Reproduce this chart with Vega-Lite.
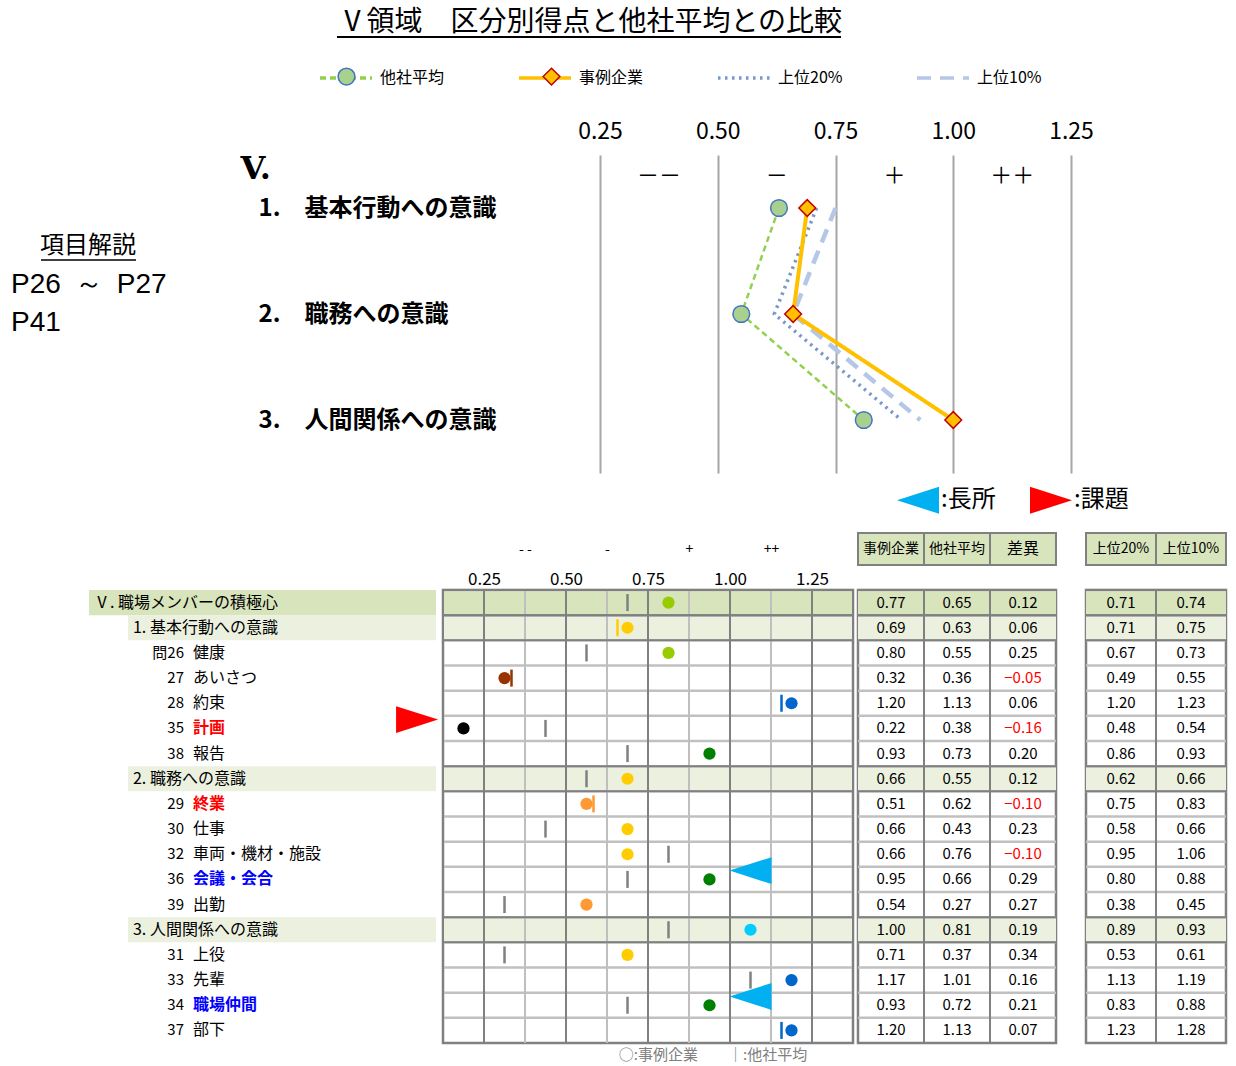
{
  "$schema": "https://vega.github.io/schema/vega-lite/v6.json",
  "usermeta": {"embedOptions": {"actions": false}},
  "background": "#ffffff",
  "padding": {"top": 9, "left": 0, "right": 0, "bottom": 0},
  "config": {"font": "Noto Sans CJK JP", "view": {"stroke": null}},
  "title": {"text": "Ⅴ領域　区分別得点と他社平均との比較", "fontSize": 28, "fontWeight": "normal", "color": "#000000", "anchor": "middle", "dx": -24, "offset": -1},
  "datasets": {
    "note": [{"line": 1, "t": "項目解説", "kind": "head"}, {"line": 2, "t": "P26\u2002～\u2002P27", "kind": "page"}, {"line": 3, "t": "P41", "kind": "page"}],
    "sec": [
      {"sec": 1, "series": "上位10%", "v": 0.75}, {"sec": 2, "series": "上位10%", "v": 0.66}, {"sec": 3, "series": "上位10%", "v": 0.93},
      {"sec": 1, "series": "上位20%", "v": 0.71}, {"sec": 2, "series": "上位20%", "v": 0.62}, {"sec": 3, "series": "上位20%", "v": 0.89},
      {"sec": 1, "series": "他社平均", "v": 0.63}, {"sec": 2, "series": "他社平均", "v": 0.55}, {"sec": 3, "series": "他社平均", "v": 0.81},
      {"sec": 1, "series": "事例企業", "v": 0.69}, {"sec": 2, "series": "事例企業", "v": 0.66}, {"sec": 3, "series": "事例企業", "v": 1.00}
    ],
    "signs": [{"v": 0.375, "s": "－－"}, {"v": 0.625, "s": "－"}, {"v": 0.875, "s": "＋"}, {"v": 1.125, "s": "＋＋"}],
    "grid": [
      {"g": 0.125, "t": "major"}, {"g": 0.25, "t": "major"}, {"g": 0.375, "t": "minor"}, {"g": 0.5, "t": "major"},
      {"g": 0.625, "t": "minor"}, {"g": 0.75, "t": "major"}, {"g": 0.875, "t": "minor"}, {"g": 1.0, "t": "major"},
      {"g": 1.125, "t": "minor"}, {"g": 1.25, "t": "major"}, {"g": 1.375, "t": "major"}
    ],
    "rows": [
      {"k": "V", "lv": 0, "num": "", "name": "Ⅴ. 職場メンバーの積極心", "hl": "", "mk": "", "co": 0.77, "av": 0.65, "df": 0.12, "t20": 0.71, "t10": 0.74},
      {"k": "s1", "lv": 1, "num": "", "name": "1. 基本行動への意識", "hl": "", "mk": "", "co": 0.69, "av": 0.63, "df": 0.06, "t20": 0.71, "t10": 0.75},
      {"k": "26", "lv": 2, "num": "問26", "name": "健康", "hl": "", "mk": "", "co": 0.80, "av": 0.55, "df": 0.25, "t20": 0.67, "t10": 0.73},
      {"k": "27", "lv": 2, "num": "27", "name": "あいさつ", "hl": "", "mk": "", "co": 0.32, "av": 0.36, "df": -0.05, "t20": 0.49, "t10": 0.55},
      {"k": "28", "lv": 2, "num": "28", "name": "約束", "hl": "", "mk": "", "co": 1.20, "av": 1.13, "df": 0.06, "t20": 1.20, "t10": 1.23},
      {"k": "35", "lv": 2, "num": "35", "name": "計画", "hl": "課題", "mk": "課題", "co": 0.22, "av": 0.38, "df": -0.16, "t20": 0.48, "t10": 0.54},
      {"k": "38", "lv": 2, "num": "38", "name": "報告", "hl": "", "mk": "", "co": 0.93, "av": 0.73, "df": 0.20, "t20": 0.86, "t10": 0.93},
      {"k": "s2", "lv": 1, "num": "", "name": "2. 職務への意識", "hl": "", "mk": "", "co": 0.66, "av": 0.55, "df": 0.12, "t20": 0.62, "t10": 0.66},
      {"k": "29", "lv": 2, "num": "29", "name": "終業", "hl": "課題", "mk": "", "co": 0.51, "av": 0.62, "df": -0.10, "t20": 0.75, "t10": 0.83},
      {"k": "30", "lv": 2, "num": "30", "name": "仕事", "hl": "", "mk": "", "co": 0.66, "av": 0.43, "df": 0.23, "t20": 0.58, "t10": 0.66},
      {"k": "32", "lv": 2, "num": "32", "name": "車両・機材・施設", "hl": "", "mk": "", "co": 0.66, "av": 0.76, "df": -0.10, "t20": 0.95, "t10": 1.06},
      {"k": "36", "lv": 2, "num": "36", "name": "会議・会合", "hl": "長所", "mk": "長所", "co": 0.95, "av": 0.66, "df": 0.29, "t20": 0.80, "t10": 0.88},
      {"k": "39", "lv": 2, "num": "39", "name": "出勤", "hl": "", "mk": "", "co": 0.54, "av": 0.27, "df": 0.27, "t20": 0.38, "t10": 0.45},
      {"k": "s3", "lv": 1, "num": "", "name": "3. 人間関係への意識", "hl": "", "mk": "", "co": 1.00, "av": 0.81, "df": 0.19, "t20": 0.89, "t10": 0.93},
      {"k": "31", "lv": 2, "num": "31", "name": "上役", "hl": "", "mk": "", "co": 0.71, "av": 0.37, "df": 0.34, "t20": 0.53, "t10": 0.61},
      {"k": "33", "lv": 2, "num": "33", "name": "先輩", "hl": "", "mk": "", "co": 1.17, "av": 1.01, "df": 0.16, "t20": 1.13, "t10": 1.19},
      {"k": "34", "lv": 2, "num": "34", "name": "職場仲間", "hl": "長所", "mk": "長所", "co": 0.93, "av": 0.72, "df": 0.21, "t20": 0.83, "t10": 0.88},
      {"k": "37", "lv": 2, "num": "37", "name": "部下", "hl": "", "mk": "", "co": 1.20, "av": 1.13, "df": 0.07, "t20": 1.23, "t10": 1.28}
    ]
  },
  "spacing": 25,
  "bounds": "flush",
  "resolve": {"scale": {"color": "independent", "fill": "independent", "stroke": "independent", "shape": "independent", "strokeDash": "independent", "size": "independent", "opacity": "independent"}},
  "vconcat": [
    {
      "width": 1071, "height": 318,
      "resolve": {"scale": {"x": "independent", "y": "independent"}},
      "layer": [
        {"data": {"name": "note"}, "transform": [{"filter": "datum.kind=='head'"}], "mark": {"type": "text", "fontSize": 24, "align": "center", "color": "#000000"},
         "encoding": {"x": {"field": "kind", "type": "nominal", "scale": {"type": "point", "domain": ["page", "head"], "range": [11, 88], "padding": 0}, "axis": null},
                      "y": {"field": "line", "type": "ordinal", "scale": {"type": "point", "domain": [1, 2, 3], "range": [91, 168], "padding": 0}, "axis": null}, "text": {"field": "t"}}},
        {"data": {"name": "note"}, "transform": [{"filter": "datum.kind=='page'"}], "mark": {"type": "text", "fontSize": 28, "align": "left", "font": "Liberation Sans", "color": "#000000"},
         "encoding": {"x": {"field": "kind", "type": "nominal", "scale": {"type": "point", "domain": ["page", "head"], "range": [11, 88], "padding": 0}, "axis": null},
                      "y": {"field": "line", "type": "ordinal", "scale": {"type": "point", "domain": [1, 2, 3], "range": [91, 168], "padding": 0}, "axis": null}, "text": {"field": "t"}}},
        {"data": {"values": [{}]}, "mark": {"type": "rule", "color": "#000000", "strokeWidth": 2},
         "encoding": {"x": {"datum": -0.3084, "type": "quantitative", "scale": {"domain": [0.25, 1.25], "range": [600, 1071], "nice": false, "zero": false}, "axis": null},
                      "x2": {"datum": 0.7617},
                      "y": {"datum": -0.613, "type": "quantitative", "scale": {"domain": [0.5, 3.5], "reverse": true, "nice": false, "zero": false}, "axis": null}}},
        {"data": {"values": [{}]}, "mark": {"type": "rule", "color": "#000000", "strokeWidth": 1.5},
         "encoding": {"x": {"datum": -0.9368, "type": "quantitative", "scale": {"domain": [0.25, 1.25], "range": [600, 1071], "nice": false, "zero": false}, "axis": null},
                      "x2": {"datum": -0.7351},
                      "y": {"datum": 1.4906, "type": "quantitative", "scale": {"domain": [0.5, 3.5], "reverse": true, "nice": false, "zero": false}, "axis": null}}},
        {
          "data": {"name": "signs"},
          "mark": {"type": "text", "fontSize": 22, "color": "#000000"},
          "encoding": {
            "x": {"field": "v", "type": "quantitative", "scale": {"domain": [0.25, 1.25], "range": [600, 1071], "nice": false, "zero": false},
                  "axis": {"orient": "top", "values": [0.25, 0.5, 0.75, 1, 1.25], "format": ".2f", "labelFontSize": 23, "labelPadding": 12, "ticks": false, "tickSize": 0, "domain": false, "grid": true, "gridColor": "#a6a6a6", "gridWidth": 2, "gridOpacity": 1, "labelFlush": false, "labelOverlap": false, "title": null, "labelColor": "#000000"}},
            "y": {"datum": 0.7, "type": "quantitative", "scale": {"domain": [0.5, 3.5], "reverse": true, "nice": false, "zero": false},
                  "axis": {"values": [1, 2, 3], "labelExpr": "datum.value==1 ? '1.　基本行動への意識' : datum.value==2 ? '2.　職務への意識' : '3.　人間関係への意識'", "labelAlign": "left", "labelBaseline": "middle", "labelPadding": -258, "labelLimit": 500, "labelFontSize": 24, "labelFontWeight": "bold", "labelColor": "#000000", "ticks": false, "tickSize": 0, "domain": false, "grid": false, "labelOverlap": false, "labelFlush": false, "title": "V.", "titleAngle": 0, "titleAlign": "left", "titleBaseline": "middle", "titleX": 240, "titleY": 13, "titleFontSize": 32, "titleFontWeight": "bold", "titleFont": "DejaVu Serif", "titleColor": "#000000"}},
            "text": {"field": "s"}
          }
        },
        {
          "data": {"name": "sec"},
          "transform": [{"filter": "datum.series=='上位10%'"}],
          "mark": {"type": "line", "strokeWidth": 4.5},
          "encoding": {
            "x": {"field": "v", "type": "quantitative", "scale": {"domain": [0.25, 1.25], "range": [600, 1071], "nice": false, "zero": false}, "axis": null},
            "y": {"field": "sec", "type": "quantitative", "scale": {"domain": [0.5, 3.5], "reverse": true, "nice": false, "zero": false}, "axis": null},
            "order": {"field": "sec", "type": "quantitative"},
            "color": {"field": "series", "type": "nominal", "scale": {"domain": ["他社平均", "事例企業", "上位20%", "上位10%"], "range": ["#92d050", "#ffc000", "#7a97cc", "#b4c7e7"]},
                      "legend": {"orient": "none", "legendX": 318, "legendY": -105, "direction": "horizontal", "title": null, "symbolSize": 2704, "symbolType": "stroke", "symbolStrokeWidth": 3.5, "labelFontSize": 16, "labelOffset": 6, "columnPadding": 67, "labelColor": "#000000"}},
            "strokeDash": {"field": "series", "type": "nominal", "scale": {"domain": ["他社平均", "事例企業", "上位20%", "上位10%"], "range": [[6, 4], [1, 0], [2.5, 4.5], [14, 9]]},
                      "legend": {"orient": "none", "legendX": 318, "legendY": -105, "direction": "horizontal", "title": null, "symbolSize": 2704, "symbolType": "stroke", "symbolStrokeWidth": 3.5, "labelFontSize": 16, "labelOffset": 6, "columnPadding": 67, "labelColor": "#000000"}}
          }
        },
        {
          "data": {"name": "sec"},
          "transform": [{"filter": "datum.series=='上位20%'"}],
          "mark": {"type": "line", "strokeWidth": 3.5},
          "encoding": {
            "x": {"field": "v", "type": "quantitative", "scale": {"domain": [0.25, 1.25], "range": [600, 1071], "nice": false, "zero": false}, "axis": null},
            "y": {"field": "sec", "type": "quantitative", "scale": {"domain": [0.5, 3.5], "reverse": true, "nice": false, "zero": false}, "axis": null},
            "order": {"field": "sec", "type": "quantitative"},
            "color": {"field": "series", "type": "nominal", "scale": {"domain": ["他社平均", "事例企業", "上位20%", "上位10%"], "range": ["#92d050", "#ffc000", "#7a97cc", "#b4c7e7"]},
                      "legend": {"orient": "none", "legendX": 318, "legendY": -105, "direction": "horizontal", "title": null, "symbolSize": 2704, "symbolType": "stroke", "symbolStrokeWidth": 3.5, "labelFontSize": 16, "labelOffset": 6, "columnPadding": 67, "labelColor": "#000000"}},
            "strokeDash": {"field": "series", "type": "nominal", "scale": {"domain": ["他社平均", "事例企業", "上位20%", "上位10%"], "range": [[6, 4], [1, 0], [2.5, 4.5], [14, 9]]},
                      "legend": {"orient": "none", "legendX": 318, "legendY": -105, "direction": "horizontal", "title": null, "symbolSize": 2704, "symbolType": "stroke", "symbolStrokeWidth": 3.5, "labelFontSize": 16, "labelOffset": 6, "columnPadding": 67, "labelColor": "#000000"}}
          }
        },
        {
          "data": {"name": "sec"},
          "transform": [{"filter": "datum.series=='他社平均'"}],
          "mark": {"type": "line", "strokeWidth": 2.5},
          "encoding": {
            "x": {"field": "v", "type": "quantitative", "scale": {"domain": [0.25, 1.25], "range": [600, 1071], "nice": false, "zero": false}, "axis": null},
            "y": {"field": "sec", "type": "quantitative", "scale": {"domain": [0.5, 3.5], "reverse": true, "nice": false, "zero": false}, "axis": null},
            "order": {"field": "sec", "type": "quantitative"},
            "color": {"field": "series", "type": "nominal", "scale": {"domain": ["他社平均", "事例企業", "上位20%", "上位10%"], "range": ["#92d050", "#ffc000", "#7a97cc", "#b4c7e7"]},
                      "legend": {"orient": "none", "legendX": 318, "legendY": -105, "direction": "horizontal", "title": null, "symbolSize": 2704, "symbolType": "stroke", "symbolStrokeWidth": 3.5, "labelFontSize": 16, "labelOffset": 6, "columnPadding": 67, "labelColor": "#000000"}},
            "strokeDash": {"field": "series", "type": "nominal", "scale": {"domain": ["他社平均", "事例企業", "上位20%", "上位10%"], "range": [[6, 4], [1, 0], [2.5, 4.5], [14, 9]]},
                      "legend": {"orient": "none", "legendX": 318, "legendY": -105, "direction": "horizontal", "title": null, "symbolSize": 2704, "symbolType": "stroke", "symbolStrokeWidth": 3.5, "labelFontSize": 16, "labelOffset": 6, "columnPadding": 67, "labelColor": "#000000"}}
          }
        },
        {
          "data": {"name": "sec"},
          "transform": [{"filter": "datum.series=='事例企業'"}],
          "mark": {"type": "line", "strokeWidth": 4},
          "encoding": {
            "x": {"field": "v", "type": "quantitative", "scale": {"domain": [0.25, 1.25], "range": [600, 1071], "nice": false, "zero": false}, "axis": null},
            "y": {"field": "sec", "type": "quantitative", "scale": {"domain": [0.5, 3.5], "reverse": true, "nice": false, "zero": false}, "axis": null},
            "order": {"field": "sec", "type": "quantitative"},
            "color": {"field": "series", "type": "nominal", "scale": {"domain": ["他社平均", "事例企業", "上位20%", "上位10%"], "range": ["#92d050", "#ffc000", "#7a97cc", "#b4c7e7"]},
                      "legend": {"orient": "none", "legendX": 318, "legendY": -105, "direction": "horizontal", "title": null, "symbolSize": 2704, "symbolType": "stroke", "symbolStrokeWidth": 3.5, "labelFontSize": 16, "labelOffset": 6, "columnPadding": 67, "labelColor": "#000000"}},
            "strokeDash": {"field": "series", "type": "nominal", "scale": {"domain": ["他社平均", "事例企業", "上位20%", "上位10%"], "range": [[6, 4], [1, 0], [2.5, 4.5], [14, 9]]},
                      "legend": {"orient": "none", "legendX": 318, "legendY": -105, "direction": "horizontal", "title": null, "symbolSize": 2704, "symbolType": "stroke", "symbolStrokeWidth": 3.5, "labelFontSize": 16, "labelOffset": 6, "columnPadding": 67, "labelColor": "#000000"}}
          }
        },
        {
          "data": {"name": "sec"},
          "transform": [{"filter": "datum.series=='他社平均' || datum.series=='事例企業'"}],
          "mark": {"type": "point", "filled": true, "size": 280, "strokeWidth": 1.5, "opacity": 1},
          "encoding": {
            "x": {"field": "v", "type": "quantitative", "scale": {"domain": [0.25, 1.25], "range": [600, 1071], "nice": false, "zero": false}, "axis": null},
            "y": {"field": "sec", "type": "quantitative", "scale": {"domain": [0.5, 3.5], "reverse": true, "nice": false, "zero": false}, "axis": null},
            "shape": {"field": "series", "type": "nominal", "scale": {"domain": ["他社平均", "事例企業", "上位20%", "上位10%", "_"], "range": ["circle", "diamond", "circle", "circle", "circle"]},
                      "legend": {"orient": "none", "legendX": 337, "legendY": -88, "direction": "horizontal", "title": null, "symbolSize": 280, "symbolStrokeWidth": 1.5, "symbolOpacity": 1, "labelFontSize": 16, "labelOffset": 0, "columnPadding": 182, "labelExpr": "''"}},
            "fill": {"field": "series", "type": "nominal", "scale": {"domain": ["他社平均", "事例企業", "上位20%", "上位10%", "_"], "range": ["#a9d18e", "#ffc000", "transparent", "transparent", "transparent"]},
                      "legend": {"orient": "none", "legendX": 337, "legendY": -88, "direction": "horizontal", "title": null, "symbolSize": 280, "symbolStrokeWidth": 1.5, "symbolOpacity": 1, "labelFontSize": 16, "labelOffset": 0, "columnPadding": 182, "labelExpr": "''"}},
            "stroke": {"field": "series", "type": "nominal", "scale": {"domain": ["他社平均", "事例企業", "上位20%", "上位10%", "_"], "range": ["#4472c4", "#c00000", "transparent", "transparent", "transparent"]},
                      "legend": {"orient": "none", "legendX": 337, "legendY": -88, "direction": "horizontal", "title": null, "symbolSize": 280, "symbolStrokeWidth": 1.5, "symbolOpacity": 1, "labelFontSize": 16, "labelOffset": 0, "columnPadding": 182, "labelExpr": "''"}}
          }
        }
      ]
    },
    {
      "width": 1226, "height": 67,
      "resolve": {"scale": {"x": "independent"}},
      "layer": [
        {"data": {"values": [{"c": "co", "h": "事例企業", "r": "hdr"}, {"c": "av", "h": "他社平均", "r": "hdr"}, {"c": "df", "h": "差異", "r": "hdr"}]},
         "mark": {"type": "rect", "fill": "#d8e4bc", "stroke": "#808080", "strokeWidth": 2},
         "encoding": {"x": {"field": "c", "type": "nominal", "sort": null, "scale": {"domain": ["co", "av", "df"], "range": [858, 1056], "paddingInner": 0, "paddingOuter": 0}, "axis": null},
                      "y": {"field": "r", "type": "nominal", "scale": {"domain": ["hdr"], "range": [35, 67], "paddingInner": 0, "paddingOuter": 0}, "axis": null}}},
        {"data": {"values": [{"c": "co", "h": "事例企業", "r": "hdr"}, {"c": "av", "h": "他社平均", "r": "hdr"}, {"c": "df", "h": "差異", "r": "hdr"}]},
         "mark": {"type": "text", "color": "#000000"},
         "encoding": {"x": {"field": "c", "type": "nominal", "sort": null, "scale": {"domain": ["co", "av", "df"], "range": [858, 1056], "paddingInner": 0, "paddingOuter": 0}, "axis": null},
                      "y": {"field": "r", "type": "nominal", "scale": {"domain": ["hdr"], "range": [35, 67], "paddingInner": 0, "paddingOuter": 0}, "axis": null},
                      "text": {"field": "h"}, "size": {"condition": {"test": "datum.c=='df'", "value": 16}, "value": 14}}},
        {"data": {"values": [{"c": "t20", "h": "上位20%", "r": "hdr"}, {"c": "t10", "h": "上位10%", "r": "hdr"}]},
         "mark": {"type": "rect", "fill": "#d8e4bc", "stroke": "#808080", "strokeWidth": 2},
         "encoding": {"x": {"field": "c", "type": "nominal", "sort": null, "scale": {"domain": ["t20", "t10"], "range": [1086, 1226], "paddingInner": 0, "paddingOuter": 0}, "axis": null},
                      "y": {"field": "r", "type": "nominal", "scale": {"domain": ["hdr"], "range": [35, 67], "paddingInner": 0, "paddingOuter": 0}, "axis": null}}},
        {"data": {"values": [{"c": "t20", "h": "上位20%", "r": "hdr"}, {"c": "t10", "h": "上位10%", "r": "hdr"}]},
         "mark": {"type": "text", "color": "#000000", "fontSize": 14},
         "encoding": {"x": {"field": "c", "type": "nominal", "sort": null, "scale": {"domain": ["t20", "t10"], "range": [1086, 1226], "paddingInner": 0, "paddingOuter": 0}, "axis": null},
                      "y": {"field": "r", "type": "nominal", "scale": {"domain": ["hdr"], "range": [35, 67], "paddingInner": 0, "paddingOuter": 0}, "axis": null},
                      "text": {"field": "h"}}}
      ]
    },
    {
      "hconcat": [
        {
          "width": 443, "height": 453,
          "data": {"name": "rows"},
          "layer": [
            {"transform": [{"filter": "datum.lv==0"}], "mark": {"type": "rect", "color": "#d8e4bc"},
             "encoding": {"x": {"datum": 0.2009, "type": "quantitative", "scale": {"domain": [0, 1], "nice": false, "zero": false}, "axis": null}, "x2": {"datum": 0.9842},
                          "y": {"field": "k", "type": "nominal", "sort": null, "scale": {"domain": ["V", "s1", "26", "27", "28", "35", "38", "s2", "29", "30", "32", "36", "39", "s3", "31", "33", "34", "37"], "paddingInner": 0, "paddingOuter": 0}, "axis": null}}},
            {"transform": [{"filter": "datum.lv==1"}], "mark": {"type": "rect", "color": "#ebf1de"},
             "encoding": {"x": {"datum": 0.2889, "type": "quantitative", "axis": null}, "x2": {"datum": 0.9842},
                          "y": {"field": "k", "type": "nominal", "sort": null, "axis": null}}},
            {"transform": [{"filter": "datum.lv==0"}], "mark": {"type": "text", "align": "left", "fontSize": 16, "color": "#000000"},
             "encoding": {"x": {"datum": 0.2122, "type": "quantitative", "axis": null}, "y": {"field": "k", "type": "nominal", "sort": null, "axis": null}, "text": {"field": "name"}}},
            {"transform": [{"filter": "datum.lv==1"}], "mark": {"type": "text", "align": "left", "fontSize": 16, "color": "#000000"},
             "encoding": {"x": {"datum": 0.3002, "type": "quantitative", "axis": null}, "y": {"field": "k", "type": "nominal", "sort": null, "axis": null}, "text": {"field": "name"}}},
            {"transform": [{"filter": "datum.lv==2"}], "mark": {"type": "text", "align": "right", "fontSize": 15, "color": "#000000"},
             "encoding": {"x": {"datum": 0.4153, "type": "quantitative", "axis": null}, "y": {"field": "k", "type": "nominal", "sort": null, "axis": null}, "text": {"field": "num"}}},
            {"transform": [{"filter": "datum.lv==2 && datum.hl==''"}], "mark": {"type": "text", "align": "left", "fontSize": 16, "color": "#000000"},
             "encoding": {"x": {"datum": 0.4357, "type": "quantitative", "axis": null}, "y": {"field": "k", "type": "nominal", "sort": null, "axis": null}, "text": {"field": "name"}}},
            {"transform": [{"filter": "datum.lv==2 && datum.hl!=''"}], "mark": {"type": "text", "align": "left", "fontSize": 16, "fontWeight": "bold"},
             "encoding": {"x": {"datum": 0.4357, "type": "quantitative", "axis": null}, "y": {"field": "k", "type": "nominal", "sort": null, "axis": null}, "text": {"field": "name"},
                          "color": {"condition": {"test": "datum.hl=='課題'", "value": "#ff0000"}, "value": "#0000ff"}}}
          ]
        },
        {
          "hconcat": [
            {
              "width": 410, "height": 453,
              "view": {"stroke": "#808080", "strokeWidth": 2.5},
              "title": {"text": "○:事例企業　　｜:他社平均", "orient": "bottom", "fontSize": 15, "fontWeight": "normal", "color": "#808080", "offset": 4, "anchor": "middle", "dx": 65},
              "data": {"name": "rows"},
              "layer": [
                {"transform": [{"filter": "datum.lv<=1"}], "mark": {"type": "rect"},
                 "encoding": {"y": {"field": "k", "type": "nominal", "sort": null, "scale": {"domain": ["V", "s1", "26", "27", "28", "35", "38", "s2", "29", "30", "32", "36", "39", "s3", "31", "33", "34", "37"], "paddingInner": 0, "paddingOuter": 0}, "axis": null},
                              "fill": {"condition": {"test": "datum.lv==0", "value": "#d8e4bc"}, "value": "#ebf1de"}}},
                {"mark": {"type": "rule", "color": "#c0c0c0", "strokeWidth": 2.5},
                 "encoding": {"y": {"field": "k", "type": "nominal", "sort": null, "bandPosition": 0, "axis": null}}},
                {"data": {"name": "grid"}, "transform": [{"filter": "datum.t=='minor'"}], "mark": {"type": "rule", "color": "#bfbfbf", "strokeWidth": 2},
                 "encoding": {"x": {"field": "g", "type": "quantitative", "scale": {"domain": [0.125, 1.375], "nice": false, "zero": false},
                                    "axis": {"orient": "top", "values": [0.25, 0.375, 0.5, 0.625, 0.75, 0.875, 1, 1.125, 1.25], "labelExpr": "(datum.value*8)%2==1 ? ['- -','-','+','++'][(datum.value*8-3)/2] : format(datum.value,'.2f')", "ticks": false, "tickSize": 0, "domain": false, "grid": false, "labelPadding": 2, "labelFontSize": {"condition": {"test": "(datum.value*8)%2==1", "value": 14}, "value": 17}, "labelBaseline": {"condition": {"test": "(datum.value*8)%2==1", "value": "line-bottom"}, "value": "bottom"}, "labelLineHeight": 78, "labelOverlap": false, "labelFlush": false, "title": null, "labelColor": "#000000"}}}},
                {"data": {"name": "grid"}, "transform": [{"filter": "datum.t=='major'"}], "mark": {"type": "rule", "color": "#808080", "strokeWidth": 2},
                 "encoding": {"x": {"field": "g", "type": "quantitative", "scale": {"domain": [0.125, 1.375], "nice": false, "zero": false},
                                    "axis": {"orient": "top", "values": [0.25, 0.375, 0.5, 0.625, 0.75, 0.875, 1, 1.125, 1.25], "labelExpr": "(datum.value*8)%2==1 ? ['- -','-','+','++'][(datum.value*8-3)/2] : format(datum.value,'.2f')", "ticks": false, "tickSize": 0, "domain": false, "grid": false, "labelPadding": 2, "labelFontSize": {"condition": {"test": "(datum.value*8)%2==1", "value": 14}, "value": 17}, "labelBaseline": {"condition": {"test": "(datum.value*8)%2==1", "value": "line-bottom"}, "value": "bottom"}, "labelLineHeight": 78, "labelOverlap": false, "labelFlush": false, "title": null, "labelColor": "#000000"}}}},
                {"transform": [{"filter": "datum.lv<=1"}], "mark": {"type": "rule", "color": "#808080", "strokeWidth": 2},
                 "encoding": {"y": {"field": "k", "type": "nominal", "sort": null, "bandPosition": 0, "axis": null}}},
                {"transform": [{"filter": "datum.lv<=1"}], "mark": {"type": "rule", "color": "#808080", "strokeWidth": 2},
                 "encoding": {"y": {"field": "k", "type": "nominal", "sort": null, "bandPosition": 1, "axis": null}}},
                {"transform": [{"filter": "floor(datum.co*8)!=floor(datum.av*8)"}], "mark": {"type": "tick", "color": "#808080", "thickness": 2.5, "size": 17, "opacity": 1},
                 "encoding": {"x": {"field": "av", "type": "quantitative", "bin": {"extent": [0.125, 1.375], "step": 0.125},
                                    "axis": {"orient": "top", "values": [0.25, 0.375, 0.5, 0.625, 0.75, 0.875, 1, 1.125, 1.25], "labelExpr": "(datum.value*8)%2==1 ? ['- -','-','+','++'][(datum.value*8-3)/2] : format(datum.value,'.2f')", "ticks": false, "tickSize": 0, "domain": false, "grid": false, "labelPadding": 2, "labelFontSize": {"condition": {"test": "(datum.value*8)%2==1", "value": 14}, "value": 17}, "labelBaseline": {"condition": {"test": "(datum.value*8)%2==1", "value": "line-bottom"}, "value": "bottom"}, "labelLineHeight": 78, "labelOverlap": false, "labelFlush": false, "title": null, "labelColor": "#000000"}},
                              "y": {"field": "k", "type": "nominal", "sort": null, "axis": null}}},
                {"transform": [{"filter": "floor(datum.co*8)==floor(datum.av*8) && datum.co>datum.av"}], "mark": {"type": "tick", "thickness": 2.5, "size": 17, "opacity": 1, "xOffset": -10},
                 "encoding": {"x": {"field": "av", "type": "quantitative", "bin": {"extent": [0.125, 1.375], "step": 0.125},
                                    "axis": {"orient": "top", "values": [0.25, 0.375, 0.5, 0.625, 0.75, 0.875, 1, 1.125, 1.25], "labelExpr": "(datum.value*8)%2==1 ? ['- -','-','+','++'][(datum.value*8-3)/2] : format(datum.value,'.2f')", "ticks": false, "tickSize": 0, "domain": false, "grid": false, "labelPadding": 2, "labelFontSize": {"condition": {"test": "(datum.value*8)%2==1", "value": 14}, "value": 17}, "labelBaseline": {"condition": {"test": "(datum.value*8)%2==1", "value": "line-bottom"}, "value": "bottom"}, "labelLineHeight": 78, "labelOverlap": false, "labelFlush": false, "title": null, "labelColor": "#000000"}},
                              "y": {"field": "k", "type": "nominal", "sort": null, "axis": null},
                              "color": {"field": "av", "type": "quantitative", "scale": {"type": "threshold", "domain": [0.25, 0.375, 0.5, 0.625, 0.75, 0.875, 1, 1.125, 1.25], "range": ["#000000", "#993300", "#ff6600", "#ff9933", "#ffcc00", "#99cc00", "#008000", "#00ccff", "#0066cc", "#0000ff"]}, "legend": null}}},
                {"transform": [{"filter": "floor(datum.co*8)==floor(datum.av*8) && datum.co<datum.av"}], "mark": {"type": "tick", "thickness": 2.5, "size": 17, "opacity": 1, "xOffset": 7},
                 "encoding": {"x": {"field": "av", "type": "quantitative", "bin": {"extent": [0.125, 1.375], "step": 0.125},
                                    "axis": {"orient": "top", "values": [0.25, 0.375, 0.5, 0.625, 0.75, 0.875, 1, 1.125, 1.25], "labelExpr": "(datum.value*8)%2==1 ? ['- -','-','+','++'][(datum.value*8-3)/2] : format(datum.value,'.2f')", "ticks": false, "tickSize": 0, "domain": false, "grid": false, "labelPadding": 2, "labelFontSize": {"condition": {"test": "(datum.value*8)%2==1", "value": 14}, "value": 17}, "labelBaseline": {"condition": {"test": "(datum.value*8)%2==1", "value": "line-bottom"}, "value": "bottom"}, "labelLineHeight": 78, "labelOverlap": false, "labelFlush": false, "title": null, "labelColor": "#000000"}},
                              "y": {"field": "k", "type": "nominal", "sort": null, "axis": null},
                              "color": {"field": "av", "type": "quantitative", "scale": {"type": "threshold", "domain": [0.25, 0.375, 0.5, 0.625, 0.75, 0.875, 1, 1.125, 1.25], "range": ["#000000", "#993300", "#ff6600", "#ff9933", "#ffcc00", "#99cc00", "#008000", "#00ccff", "#0066cc", "#0000ff"]}, "legend": null}}},
                {"mark": {"type": "point", "filled": true, "size": 150, "opacity": 1},
                 "encoding": {"x": {"field": "co", "type": "quantitative", "bin": {"extent": [0.125, 1.375], "step": 0.125},
                                    "axis": {"orient": "top", "values": [0.25, 0.375, 0.5, 0.625, 0.75, 0.875, 1, 1.125, 1.25], "labelExpr": "(datum.value*8)%2==1 ? ['- -','-','+','++'][(datum.value*8-3)/2] : format(datum.value,'.2f')", "ticks": false, "tickSize": 0, "domain": false, "grid": false, "labelPadding": 2, "labelFontSize": {"condition": {"test": "(datum.value*8)%2==1", "value": 14}, "value": 17}, "labelBaseline": {"condition": {"test": "(datum.value*8)%2==1", "value": "line-bottom"}, "value": "bottom"}, "labelLineHeight": 78, "labelOverlap": false, "labelFlush": false, "title": null, "labelColor": "#000000"}},
                              "y": {"field": "k", "type": "nominal", "sort": null, "axis": null},
                              "color": {"field": "co", "type": "quantitative", "scale": {"type": "threshold", "domain": [0.25, 0.375, 0.5, 0.625, 0.75, 0.875, 1, 1.125, 1.25], "range": ["#000000", "#993300", "#ff6600", "#ff9933", "#ffcc00", "#99cc00", "#008000", "#00ccff", "#0066cc", "#0000ff"]}, "legend": null}}},
                {"transform": [{"filter": "datum.mk=='長所'"}], "mark": {"type": "point", "filled": true, "size": 1764, "opacity": 1, "strokeWidth": 0},
                 "encoding": {"x": {"datum": 1.0625, "type": "quantitative",
                                    "axis": {"orient": "top", "values": [0.25, 0.375, 0.5, 0.625, 0.75, 0.875, 1, 1.125, 1.25], "labelExpr": "(datum.value*8)%2==1 ? ['- -','-','+','++'][(datum.value*8-3)/2] : format(datum.value,'.2f')", "ticks": false, "tickSize": 0, "domain": false, "grid": false, "labelPadding": 2, "labelFontSize": {"condition": {"test": "(datum.value*8)%2==1", "value": 14}, "value": 17}, "labelBaseline": {"condition": {"test": "(datum.value*8)%2==1", "value": "line-bottom"}, "value": "bottom"}, "labelLineHeight": 78, "labelOverlap": false, "labelFlush": false, "title": null, "labelColor": "#000000"}},
                              "y": {"field": "k", "type": "nominal", "sort": null, "bandPosition": 0.15, "axis": null},
                              "shape": {"field": "mk", "type": "nominal", "scale": {"domain": ["長所", "課題"], "range": ["M1,-0.64L-1,0L1,0.64Z", "M-1,-0.64L1,0L-1,0.64Z"]},
                                        "legend": {"orient": "none", "legendX": 454, "legendY": -111, "direction": "horizontal", "title": null, "symbolSize": 1764, "symbolOpacity": 1, "symbolStrokeWidth": 0, "labelFontSize": 24, "labelOffset": 2, "columnPadding": 34, "labelExpr": "':' + datum.label", "labelColor": "#000000"}},
                              "fill": {"field": "mk", "type": "nominal", "scale": {"domain": ["長所", "課題"], "range": ["#00b0f0", "#ff0000"]},
                                        "legend": {"orient": "none", "legendX": 454, "legendY": -111, "direction": "horizontal", "title": null, "symbolSize": 1764, "symbolOpacity": 1, "symbolStrokeWidth": 0, "labelFontSize": 24, "labelOffset": 2, "columnPadding": 34, "labelExpr": "':' + datum.label", "labelColor": "#000000"}}}},
                {"transform": [{"filter": "datum.mk=='課題'"}], "mark": {"type": "point", "filled": true, "size": 1764, "opacity": 1, "strokeWidth": 0},
                 "encoding": {"x": {"datum": 0.046, "type": "quantitative",
                                    "axis": {"orient": "top", "values": [0.25, 0.375, 0.5, 0.625, 0.75, 0.875, 1, 1.125, 1.25], "labelExpr": "(datum.value*8)%2==1 ? ['- -','-','+','++'][(datum.value*8-3)/2] : format(datum.value,'.2f')", "ticks": false, "tickSize": 0, "domain": false, "grid": false, "labelPadding": 2, "labelFontSize": {"condition": {"test": "(datum.value*8)%2==1", "value": 14}, "value": 17}, "labelBaseline": {"condition": {"test": "(datum.value*8)%2==1", "value": "line-bottom"}, "value": "bottom"}, "labelLineHeight": 78, "labelOverlap": false, "labelFlush": false, "title": null, "labelColor": "#000000"}},
                              "y": {"field": "k", "type": "nominal", "sort": null, "bandPosition": 0.15, "axis": null},
                              "shape": {"field": "mk", "type": "nominal", "scale": {"domain": ["長所", "課題"], "range": ["M1,-0.64L-1,0L1,0.64Z", "M-1,-0.64L1,0L-1,0.64Z"]},
                                        "legend": {"orient": "none", "legendX": 454, "legendY": -111, "direction": "horizontal", "title": null, "symbolSize": 1764, "symbolOpacity": 1, "symbolStrokeWidth": 0, "labelFontSize": 24, "labelOffset": 2, "columnPadding": 34, "labelExpr": "':' + datum.label", "labelColor": "#000000"}},
                              "fill": {"field": "mk", "type": "nominal", "scale": {"domain": ["長所", "課題"], "range": ["#00b0f0", "#ff0000"]},
                                        "legend": {"orient": "none", "legendX": 454, "legendY": -111, "direction": "horizontal", "title": null, "symbolSize": 1764, "symbolOpacity": 1, "symbolStrokeWidth": 0, "labelFontSize": 24, "labelOffset": 2, "columnPadding": 34, "labelExpr": "':' + datum.label", "labelColor": "#000000"}}}}
              ]
            },
            {
              "hconcat": [
                {
                  "width": 198, "height": 453,
                  "view": {"stroke": "#808080", "strokeWidth": 2.5},
                  "data": {"name": "rows"},
                  "layer": [
                    {"transform": [{"filter": "datum.lv<=1"}], "mark": {"type": "rect"},
                     "encoding": {"y": {"field": "k", "type": "nominal", "sort": null, "scale": {"domain": ["V", "s1", "26", "27", "28", "35", "38", "s2", "29", "30", "32", "36", "39", "s3", "31", "33", "34", "37"], "paddingInner": 0, "paddingOuter": 0}, "axis": null},
                                  "fill": {"condition": {"test": "datum.lv==0", "value": "#d8e4bc"}, "value": "#ebf1de"}}},
                    {"mark": {"type": "rule", "color": "#c0c0c0", "strokeWidth": 2.5},
                     "encoding": {"y": {"field": "k", "type": "nominal", "sort": null, "bandPosition": 0, "axis": null}}},
                    {"transform": [{"filter": "datum.lv<=1"}], "mark": {"type": "rule", "color": "#808080", "strokeWidth": 2},
                     "encoding": {"y": {"field": "k", "type": "nominal", "sort": null, "bandPosition": 0, "axis": null}}},
                    {"transform": [{"filter": "datum.lv<=1"}], "mark": {"type": "rule", "color": "#808080", "strokeWidth": 2},
                     "encoding": {"y": {"field": "k", "type": "nominal", "sort": null, "bandPosition": 1, "axis": null}}},
                    {"data": {"values": [{"c": "av"}, {"c": "df"}]}, "mark": {"type": "rule", "color": "#808080", "strokeWidth": 2},
                     "encoding": {"x": {"field": "c", "type": "nominal", "sort": null, "bandPosition": 0, "scale": {"domain": ["co", "av", "df"], "paddingInner": 0, "paddingOuter": 0}, "axis": null}}},
                    {"transform": [{"fold": ["co", "av", "df"]}], "mark": {"type": "text", "fontSize": 15},
                     "encoding": {"x": {"field": "key", "type": "nominal", "sort": null, "axis": null},
                                  "y": {"field": "k", "type": "nominal", "sort": null, "axis": null},
                                  "text": {"field": "value", "type": "quantitative", "format": ".2f"},
                                  "color": {"condition": {"test": "datum.value<0", "value": "#ff0000"}, "value": "#000000"}}}
                  ]
                },
                {
                  "width": 140, "height": 453,
                  "view": {"stroke": "#808080", "strokeWidth": 2.5},
                  "data": {"name": "rows"},
                  "layer": [
                    {"transform": [{"filter": "datum.lv<=1"}], "mark": {"type": "rect"},
                     "encoding": {"y": {"field": "k", "type": "nominal", "sort": null, "scale": {"domain": ["V", "s1", "26", "27", "28", "35", "38", "s2", "29", "30", "32", "36", "39", "s3", "31", "33", "34", "37"], "paddingInner": 0, "paddingOuter": 0}, "axis": null},
                                  "fill": {"condition": {"test": "datum.lv==0", "value": "#d8e4bc"}, "value": "#ebf1de"}}},
                    {"mark": {"type": "rule", "color": "#c0c0c0", "strokeWidth": 2.5},
                     "encoding": {"y": {"field": "k", "type": "nominal", "sort": null, "bandPosition": 0, "axis": null}}},
                    {"transform": [{"filter": "datum.lv<=1"}], "mark": {"type": "rule", "color": "#808080", "strokeWidth": 2},
                     "encoding": {"y": {"field": "k", "type": "nominal", "sort": null, "bandPosition": 0, "axis": null}}},
                    {"transform": [{"filter": "datum.lv<=1"}], "mark": {"type": "rule", "color": "#808080", "strokeWidth": 2},
                     "encoding": {"y": {"field": "k", "type": "nominal", "sort": null, "bandPosition": 1, "axis": null}}},
                    {"data": {"values": [{"c": "t10"}]}, "mark": {"type": "rule", "color": "#808080", "strokeWidth": 2},
                     "encoding": {"x": {"field": "c", "type": "nominal", "sort": null, "bandPosition": 0, "scale": {"domain": ["t20", "t10"], "paddingInner": 0, "paddingOuter": 0}, "axis": null}}},
                    {"transform": [{"fold": ["t20", "t10"]}], "mark": {"type": "text", "fontSize": 15, "color": "#000000"},
                     "encoding": {"x": {"field": "key", "type": "nominal", "sort": null, "axis": null},
                                  "y": {"field": "k", "type": "nominal", "sort": null, "axis": null},
                                  "text": {"field": "value", "type": "quantitative", "format": ".2f"}}}
                  ]
                }
              ],
              "spacing": 30, "bounds": "flush",
              "resolve": {"scale": {"color": "independent", "fill": "independent", "stroke": "independent", "shape": "independent", "strokeDash": "independent", "size": "independent", "opacity": "independent"}}
            }
          ],
          "spacing": 5, "bounds": "flush",
          "resolve": {"scale": {"color": "independent", "fill": "independent", "stroke": "independent", "shape": "independent", "strokeDash": "independent", "size": "independent", "opacity": "independent"}}
        }
      ],
      "spacing": 0, "bounds": "flush",
      "resolve": {"scale": {"color": "independent", "fill": "independent", "stroke": "independent", "shape": "independent", "strokeDash": "independent", "size": "independent", "opacity": "independent"}}
    }
  ]
}
